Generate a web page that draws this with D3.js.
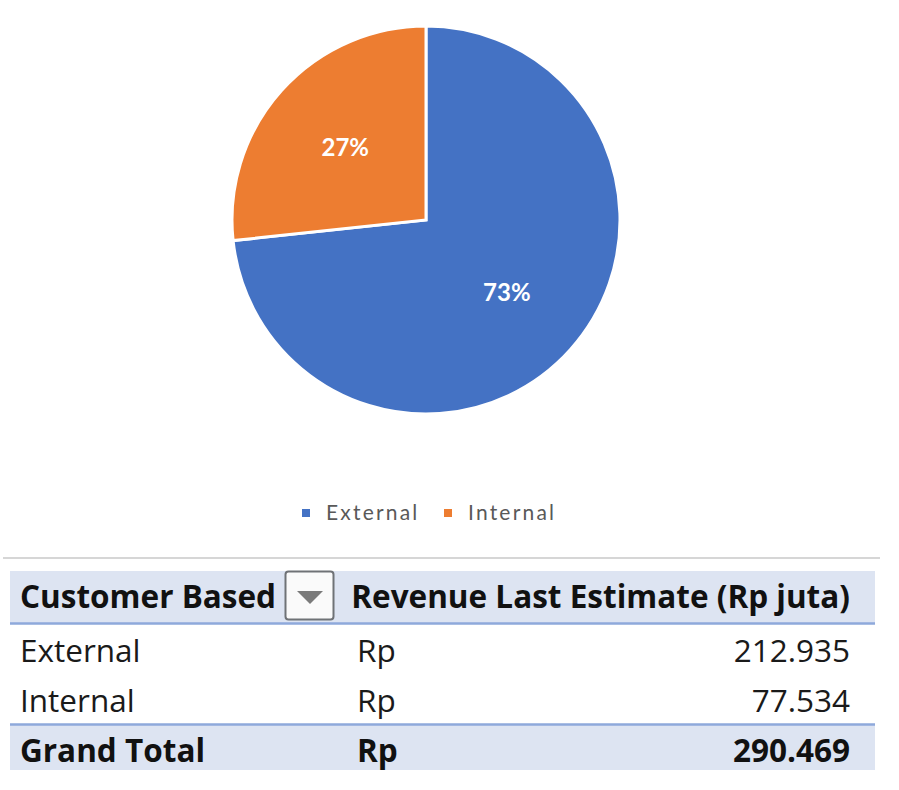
<!DOCTYPE html>
<html>
<head>
<meta charset="utf-8">
<script src="https://cdn.jsdelivr.net/npm/d3@7"></script>
<style>
  html, body { margin: 0; padding: 0; background: #fff; }
  svg { display: block; }
</style>
</head>
<body>
<div id="chart"></div>
<script>
// pie slices / table rows
const categories = ["External", "Internal"];
const revenue = [212935, 77534];          // Rp juta
const colors = ["#4472C4", "#ED7D31"];
const headers = ["Customer Based", "Revenue Last Estimate (Rp juta)"];
const currencyLabel = "Rp";
const totalLabel = "Grand Total";

const W = 899, H = 790;
const svg = d3.select("#chart").append("svg")
  .attr("width", W).attr("height", H);

const idLocale = d3.formatLocale({ decimal: ",", thousands: ".", grouping: [3], currency: ["Rp", ""] });
const fmtNum = idLocale.format(",d");
const fmtPct = d3.format(".0%");

const total = d3.sum(revenue);
const rows = categories.map((c, i) => ({ name: c, value: revenue[i], color: colors[i] }));

// --- pie ---
const cx = 426, cy = 220, R = 194;
const pie = d3.pie().sort(null).value(d => d.value);
const arc = d3.arc().innerRadius(0).outerRadius(R);
const labelArc = d3.arc().innerRadius(0).outerRadius(R * 1.12);

const g = svg.append("g").attr("transform", `translate(${cx},${cy})`);
const arcs = pie(rows);

g.selectAll("path.slice")
  .data(arcs)
  .join("path")
  .attr("class", "slice")
  .attr("d", arc)
  .attr("fill", d => d.data.color)
  .attr("stroke", "#fff")
  .attr("stroke-width", 3)
  .attr("stroke-linejoin", "miter");

g.selectAll("text.pct")
  .data(arcs)
  .join("text")
  .attr("class", "pct")
  .attr("transform", d => `translate(${labelArc.centroid(d)})`)
  .attr("text-anchor", "middle")
  .attr("dy", "0.35em")
  .attr("fill", "#fff")
  .attr("font-family", "Lato, 'Open Sans', sans-serif")
  .attr("font-weight", 700)
  .attr("font-size", 24)
  .text(d => fmtPct(d.data.value / total));

// --- legend ---
const legend = svg.append("g").attr("transform", "translate(302,513)");
const legItem = legend.selectAll("g")
  .data(rows)
  .join("g")
  .attr("transform", (d, i) => `translate(${i * 142},0)`);
legItem.append("rect")
  .attr("x", 0).attr("y", -4).attr("width", 8).attr("height", 8)
  .attr("fill", d => d.color);
legItem.append("text")
  .attr("x", 24).attr("dy", "0.35em")
  .attr("fill", "#595959")
  .attr("font-family", "Lato, sans-serif")
  .attr("font-size", 21)
  .attr("letter-spacing", 2.2)
  .text(d => d.name);

// --- pivot table ---
const font = "'Open Sans', Lato, sans-serif";
const fs = 31.5;
const tblL = 10, tblR = 875;
const colName = 20, colRp = 357, colVal = 850;

svg.append("line")
  .attr("x1", 3).attr("x2", 880).attr("y1", 558).attr("y2", 558)
  .attr("stroke", "#d6d6d6").attr("stroke-width", 2);

// header band
svg.append("rect")
  .attr("x", tblL).attr("y", 571).attr("width", tblR - tblL).attr("height", 52)
  .attr("fill", "#DDE4F2");
svg.append("line")
  .attr("x1", tblL).attr("x2", tblR).attr("y1", 623.5).attr("y2", 623.5)
  .attr("stroke", "#8EA9DB").attr("stroke-width", 2.5);

svg.append("text")
  .attr("x", colName).attr("y", 608)
  .attr("font-family", font).attr("font-weight", 700).attr("font-size", fs)
  .attr("fill", "#111")
  .text(headers[0]);

// filter dropdown button
const btn = svg.append("g").attr("transform", "translate(285,571)");
btn.append("rect")
  .attr("x", 0.5).attr("y", 0.5).attr("width", 48).attr("height", 48).attr("rx", 3)
  .attr("fill", "#fafafa").attr("stroke", "#6f7276").attr("stroke-width", 2);
btn.append("path")
  .attr("d", "M12,20 L38,20 L25,33 Z")
  .attr("fill", "#7a7a7a");

svg.append("text")
  .attr("x", colVal).attr("y", 608)
  .attr("text-anchor", "end")
  .attr("font-family", font).attr("font-weight", 700).attr("font-size", fs)
  .attr("fill", "#111")
  .text(headers[1]);

// body rows
const rowY = d3.scalePoint().domain(categories).range([662, 712]);
const body = svg.selectAll("g.row")
  .data(rows)
  .join("g")
  .attr("class", "row")
  .attr("transform", d => `translate(0,${rowY(d.name)})`)
  .attr("font-family", font).attr("font-size", fs).attr("fill", "#1a1a1a");
body.append("text").attr("x", colName).text(d => d.name);
body.append("text").attr("x", colRp).text(currencyLabel);
body.append("text").attr("x", colVal).attr("text-anchor", "end").text(d => fmtNum(d.value));

// grand total
svg.append("rect")
  .attr("x", tblL).attr("y", 724).attr("width", tblR - tblL).attr("height", 46)
  .attr("fill", "#DDE4F2");
svg.append("line")
  .attr("x1", tblL).attr("x2", tblR).attr("y1", 724.5).attr("y2", 724.5)
  .attr("stroke", "#8EA9DB").attr("stroke-width", 2.5);
const tot = svg.append("g")
  .attr("transform", "translate(0,762)")
  .attr("font-family", font).attr("font-size", fs).attr("font-weight", 700)
  .attr("fill", "#111");
tot.append("text").attr("x", colName).text(totalLabel);
tot.append("text").attr("x", colRp).text(currencyLabel);
tot.append("text").attr("x", colVal).attr("text-anchor", "end").text(fmtNum(total));
</script>
</body>
</html>
